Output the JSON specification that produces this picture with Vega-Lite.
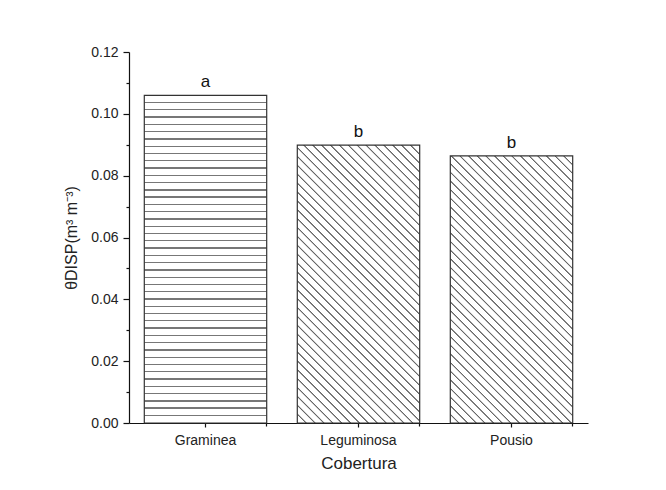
{
  "$schema": "https://vega.github.io/schema/vega-lite/v6.json",
  "autosize": "none",
  "width": 459,
  "height": 371,
  "padding": {"left": 129, "top": 52, "right": 78, "bottom": 67},
  "background": "white",
  "config": {
    "view": {"stroke": null},
    "font": "Liberation Sans",
    "axis": {"labelFont": "Liberation Sans", "titleFont": "Liberation Sans", "labelColor": "#222", "titleColor": "#222", "domainColor": "#111", "tickColor": "#111", "grid": false, "titleFontWeight": "normal"}
  },
  "data": {"values": [
    {"cobertura": "Graminea", "valor": 0.106, "letra": "a"},
    {"cobertura": "Leguminosa", "valor": 0.0899, "letra": "b"},
    {"cobertura": "Pousio", "valor": 0.0864, "letra": "b"}
  ]},
  "resolve": {"axis": {"x": "independent", "y": "independent"}},
  "layer": [
    {
      "transform": [{"filter": "datum.cobertura === 'Graminea'"}],
      "mark": {"type": "bar", "stroke": "#333", "strokeWidth": 1.2, "fill": {"gradient": "linear", "x1": 0, "y1": 0, "x2": 0, "y2": 1, "stops": [
        {"offset": 0, "color": "#fff"},
        {"offset": 0.0202, "color": "#fff"}, {"offset": 0.0202, "color": "#777"}, {"offset": 0.0242, "color": "#777"}, {"offset": 0.0242, "color": "#fff"},
        {"offset": 0.0424, "color": "#fff"}, {"offset": 0.0424, "color": "#777"}, {"offset": 0.0464, "color": "#777"}, {"offset": 0.0464, "color": "#fff"},
        {"offset": 0.0646, "color": "#fff"}, {"offset": 0.0646, "color": "#777"}, {"offset": 0.0686, "color": "#777"}, {"offset": 0.0686, "color": "#fff"},
        {"offset": 0.0868, "color": "#fff"}, {"offset": 0.0868, "color": "#777"}, {"offset": 0.0908, "color": "#777"}, {"offset": 0.0908, "color": "#fff"},
        {"offset": 0.1090, "color": "#fff"}, {"offset": 0.1090, "color": "#777"}, {"offset": 0.1130, "color": "#777"}, {"offset": 0.1130, "color": "#fff"},
        {"offset": 0.1312, "color": "#fff"}, {"offset": 0.1312, "color": "#777"}, {"offset": 0.1352, "color": "#777"}, {"offset": 0.1352, "color": "#fff"},
        {"offset": 0.1534, "color": "#fff"}, {"offset": 0.1534, "color": "#777"}, {"offset": 0.1574, "color": "#777"}, {"offset": 0.1574, "color": "#fff"},
        {"offset": 0.1756, "color": "#fff"}, {"offset": 0.1756, "color": "#777"}, {"offset": 0.1796, "color": "#777"}, {"offset": 0.1796, "color": "#fff"},
        {"offset": 0.1978, "color": "#fff"}, {"offset": 0.1978, "color": "#777"}, {"offset": 0.2018, "color": "#777"}, {"offset": 0.2018, "color": "#fff"},
        {"offset": 0.2200, "color": "#fff"}, {"offset": 0.2200, "color": "#777"}, {"offset": 0.2240, "color": "#777"}, {"offset": 0.2240, "color": "#fff"},
        {"offset": 0.2422, "color": "#fff"}, {"offset": 0.2422, "color": "#777"}, {"offset": 0.2462, "color": "#777"}, {"offset": 0.2462, "color": "#fff"},
        {"offset": 0.2644, "color": "#fff"}, {"offset": 0.2644, "color": "#777"}, {"offset": 0.2684, "color": "#777"}, {"offset": 0.2684, "color": "#fff"},
        {"offset": 0.2866, "color": "#fff"}, {"offset": 0.2866, "color": "#777"}, {"offset": 0.2906, "color": "#777"}, {"offset": 0.2906, "color": "#fff"},
        {"offset": 0.3088, "color": "#fff"}, {"offset": 0.3088, "color": "#777"}, {"offset": 0.3128, "color": "#777"}, {"offset": 0.3128, "color": "#fff"},
        {"offset": 0.3310, "color": "#fff"}, {"offset": 0.3310, "color": "#777"}, {"offset": 0.3350, "color": "#777"}, {"offset": 0.3350, "color": "#fff"},
        {"offset": 0.3532, "color": "#fff"}, {"offset": 0.3532, "color": "#777"}, {"offset": 0.3572, "color": "#777"}, {"offset": 0.3572, "color": "#fff"},
        {"offset": 0.3754, "color": "#fff"}, {"offset": 0.3754, "color": "#777"}, {"offset": 0.3794, "color": "#777"}, {"offset": 0.3794, "color": "#fff"},
        {"offset": 0.3976, "color": "#fff"}, {"offset": 0.3976, "color": "#777"}, {"offset": 0.4016, "color": "#777"}, {"offset": 0.4016, "color": "#fff"},
        {"offset": 0.4198, "color": "#fff"}, {"offset": 0.4198, "color": "#777"}, {"offset": 0.4238, "color": "#777"}, {"offset": 0.4238, "color": "#fff"},
        {"offset": 0.4420, "color": "#fff"}, {"offset": 0.4420, "color": "#777"}, {"offset": 0.4460, "color": "#777"}, {"offset": 0.4460, "color": "#fff"},
        {"offset": 0.4642, "color": "#fff"}, {"offset": 0.4642, "color": "#777"}, {"offset": 0.4682, "color": "#777"}, {"offset": 0.4682, "color": "#fff"},
        {"offset": 0.4864, "color": "#fff"}, {"offset": 0.4864, "color": "#777"}, {"offset": 0.4904, "color": "#777"}, {"offset": 0.4904, "color": "#fff"},
        {"offset": 0.5086, "color": "#fff"}, {"offset": 0.5086, "color": "#777"}, {"offset": 0.5126, "color": "#777"}, {"offset": 0.5126, "color": "#fff"},
        {"offset": 0.5308, "color": "#fff"}, {"offset": 0.5308, "color": "#777"}, {"offset": 0.5348, "color": "#777"}, {"offset": 0.5348, "color": "#fff"},
        {"offset": 0.5530, "color": "#fff"}, {"offset": 0.5530, "color": "#777"}, {"offset": 0.5570, "color": "#777"}, {"offset": 0.5570, "color": "#fff"},
        {"offset": 0.5752, "color": "#fff"}, {"offset": 0.5752, "color": "#777"}, {"offset": 0.5792, "color": "#777"}, {"offset": 0.5792, "color": "#fff"},
        {"offset": 0.5974, "color": "#fff"}, {"offset": 0.5974, "color": "#777"}, {"offset": 0.6014, "color": "#777"}, {"offset": 0.6014, "color": "#fff"},
        {"offset": 0.6196, "color": "#fff"}, {"offset": 0.6196, "color": "#777"}, {"offset": 0.6236, "color": "#777"}, {"offset": 0.6236, "color": "#fff"},
        {"offset": 0.6418, "color": "#fff"}, {"offset": 0.6418, "color": "#777"}, {"offset": 0.6458, "color": "#777"}, {"offset": 0.6458, "color": "#fff"},
        {"offset": 0.6640, "color": "#fff"}, {"offset": 0.6640, "color": "#777"}, {"offset": 0.6680, "color": "#777"}, {"offset": 0.6680, "color": "#fff"},
        {"offset": 0.6862, "color": "#fff"}, {"offset": 0.6862, "color": "#777"}, {"offset": 0.6902, "color": "#777"}, {"offset": 0.6902, "color": "#fff"},
        {"offset": 0.7084, "color": "#fff"}, {"offset": 0.7084, "color": "#777"}, {"offset": 0.7124, "color": "#777"}, {"offset": 0.7124, "color": "#fff"},
        {"offset": 0.7306, "color": "#fff"}, {"offset": 0.7306, "color": "#777"}, {"offset": 0.7346, "color": "#777"}, {"offset": 0.7346, "color": "#fff"},
        {"offset": 0.7528, "color": "#fff"}, {"offset": 0.7528, "color": "#777"}, {"offset": 0.7568, "color": "#777"}, {"offset": 0.7568, "color": "#fff"},
        {"offset": 0.7750, "color": "#fff"}, {"offset": 0.7750, "color": "#777"}, {"offset": 0.7790, "color": "#777"}, {"offset": 0.7790, "color": "#fff"},
        {"offset": 0.7972, "color": "#fff"}, {"offset": 0.7972, "color": "#777"}, {"offset": 0.8012, "color": "#777"}, {"offset": 0.8012, "color": "#fff"},
        {"offset": 0.8194, "color": "#fff"}, {"offset": 0.8194, "color": "#777"}, {"offset": 0.8234, "color": "#777"}, {"offset": 0.8234, "color": "#fff"},
        {"offset": 0.8416, "color": "#fff"}, {"offset": 0.8416, "color": "#777"}, {"offset": 0.8456, "color": "#777"}, {"offset": 0.8456, "color": "#fff"},
        {"offset": 0.8638, "color": "#fff"}, {"offset": 0.8638, "color": "#777"}, {"offset": 0.8678, "color": "#777"}, {"offset": 0.8678, "color": "#fff"},
        {"offset": 0.8860, "color": "#fff"}, {"offset": 0.8860, "color": "#777"}, {"offset": 0.8900, "color": "#777"}, {"offset": 0.8900, "color": "#fff"},
        {"offset": 0.9082, "color": "#fff"}, {"offset": 0.9082, "color": "#777"}, {"offset": 0.9122, "color": "#777"}, {"offset": 0.9122, "color": "#fff"},
        {"offset": 0.9304, "color": "#fff"}, {"offset": 0.9304, "color": "#777"}, {"offset": 0.9344, "color": "#777"}, {"offset": 0.9344, "color": "#fff"},
        {"offset": 0.9526, "color": "#fff"}, {"offset": 0.9526, "color": "#777"}, {"offset": 0.9566, "color": "#777"}, {"offset": 0.9566, "color": "#fff"},
        {"offset": 0.9748, "color": "#fff"}, {"offset": 0.9748, "color": "#777"}, {"offset": 0.9788, "color": "#777"}, {"offset": 0.9788, "color": "#fff"},
        {"offset": 1, "color": "#fff"}
      ]}},
      "encoding": {
        "x": {"field": "cobertura", "type": "nominal", "sort": null,
          "scale": {"domain": ["Graminea", "Leguminosa", "Pousio"], "paddingInner": 0.2, "paddingOuter": 0.1},
          "axis": {"orient": "bottom", "title": "Cobertura", "titleFontSize": 17, "titlePadding": 8, "labelFontSize": 14, "labelAngle": 0, "labelPadding": 6, "tickSize": 4, "domainWidth": 1.2, "tickWidth": 1.2}},
        "y": {"field": "valor", "type": "quantitative",
          "scale": {"domain": [0, 0.12], "nice": false, "zero": true},
          "axis": {"orient": "left", "title": "θDISP(m³ m⁻³)", "titleFontSize": 16, "titlePadding": 11, "labelFontSize": 14, "labelPadding": 5, "tickSize": 6, "format": ".2f", "values": [0, 0.02, 0.04, 0.06, 0.08, 0.1, 0.12], "domainWidth": 1.2, "tickWidth": 1.2}}
      }
    },
    {
      "transform": [{"filter": "datum.cobertura === 'Leguminosa'"}],
      "mark": {"type": "bar", "stroke": "#333", "strokeWidth": 1.2, "fill": {"gradient": "linear", "x1": 0, "y1": 1, "x2": 0.5314, "y2": -0.2064, "stops": [
        {"offset": 0, "color": "#fff"},
        {"offset": 0.0192, "color": "#fff"}, {"offset": 0.0212, "color": "#666"}, {"offset": 0.0232, "color": "#666"}, {"offset": 0.0252, "color": "#fff"},
        {"offset": 0.0414, "color": "#fff"}, {"offset": 0.0434, "color": "#666"}, {"offset": 0.0454, "color": "#666"}, {"offset": 0.0474, "color": "#fff"},
        {"offset": 0.0636, "color": "#fff"}, {"offset": 0.0656, "color": "#666"}, {"offset": 0.0676, "color": "#666"}, {"offset": 0.0696, "color": "#fff"},
        {"offset": 0.0858, "color": "#fff"}, {"offset": 0.0878, "color": "#666"}, {"offset": 0.0898, "color": "#666"}, {"offset": 0.0918, "color": "#fff"},
        {"offset": 0.1080, "color": "#fff"}, {"offset": 0.1100, "color": "#666"}, {"offset": 0.1120, "color": "#666"}, {"offset": 0.1140, "color": "#fff"},
        {"offset": 0.1302, "color": "#fff"}, {"offset": 0.1322, "color": "#666"}, {"offset": 0.1342, "color": "#666"}, {"offset": 0.1362, "color": "#fff"},
        {"offset": 0.1524, "color": "#fff"}, {"offset": 0.1544, "color": "#666"}, {"offset": 0.1564, "color": "#666"}, {"offset": 0.1584, "color": "#fff"},
        {"offset": 0.1746, "color": "#fff"}, {"offset": 0.1766, "color": "#666"}, {"offset": 0.1786, "color": "#666"}, {"offset": 0.1806, "color": "#fff"},
        {"offset": 0.1968, "color": "#fff"}, {"offset": 0.1988, "color": "#666"}, {"offset": 0.2008, "color": "#666"}, {"offset": 0.2028, "color": "#fff"},
        {"offset": 0.2190, "color": "#fff"}, {"offset": 0.2210, "color": "#666"}, {"offset": 0.2230, "color": "#666"}, {"offset": 0.2250, "color": "#fff"},
        {"offset": 0.2412, "color": "#fff"}, {"offset": 0.2432, "color": "#666"}, {"offset": 0.2452, "color": "#666"}, {"offset": 0.2472, "color": "#fff"},
        {"offset": 0.2634, "color": "#fff"}, {"offset": 0.2654, "color": "#666"}, {"offset": 0.2674, "color": "#666"}, {"offset": 0.2694, "color": "#fff"},
        {"offset": 0.2856, "color": "#fff"}, {"offset": 0.2876, "color": "#666"}, {"offset": 0.2896, "color": "#666"}, {"offset": 0.2916, "color": "#fff"},
        {"offset": 0.3078, "color": "#fff"}, {"offset": 0.3098, "color": "#666"}, {"offset": 0.3118, "color": "#666"}, {"offset": 0.3138, "color": "#fff"},
        {"offset": 0.3300, "color": "#fff"}, {"offset": 0.3320, "color": "#666"}, {"offset": 0.3340, "color": "#666"}, {"offset": 0.3360, "color": "#fff"},
        {"offset": 0.3522, "color": "#fff"}, {"offset": 0.3542, "color": "#666"}, {"offset": 0.3562, "color": "#666"}, {"offset": 0.3582, "color": "#fff"},
        {"offset": 0.3744, "color": "#fff"}, {"offset": 0.3764, "color": "#666"}, {"offset": 0.3784, "color": "#666"}, {"offset": 0.3804, "color": "#fff"},
        {"offset": 0.3966, "color": "#fff"}, {"offset": 0.3986, "color": "#666"}, {"offset": 0.4006, "color": "#666"}, {"offset": 0.4026, "color": "#fff"},
        {"offset": 0.4188, "color": "#fff"}, {"offset": 0.4208, "color": "#666"}, {"offset": 0.4228, "color": "#666"}, {"offset": 0.4248, "color": "#fff"},
        {"offset": 0.4410, "color": "#fff"}, {"offset": 0.4430, "color": "#666"}, {"offset": 0.4450, "color": "#666"}, {"offset": 0.4470, "color": "#fff"},
        {"offset": 0.4632, "color": "#fff"}, {"offset": 0.4652, "color": "#666"}, {"offset": 0.4672, "color": "#666"}, {"offset": 0.4692, "color": "#fff"},
        {"offset": 0.4854, "color": "#fff"}, {"offset": 0.4874, "color": "#666"}, {"offset": 0.4894, "color": "#666"}, {"offset": 0.4914, "color": "#fff"},
        {"offset": 0.5076, "color": "#fff"}, {"offset": 0.5096, "color": "#666"}, {"offset": 0.5116, "color": "#666"}, {"offset": 0.5136, "color": "#fff"},
        {"offset": 0.5298, "color": "#fff"}, {"offset": 0.5318, "color": "#666"}, {"offset": 0.5338, "color": "#666"}, {"offset": 0.5358, "color": "#fff"},
        {"offset": 0.5520, "color": "#fff"}, {"offset": 0.5540, "color": "#666"}, {"offset": 0.5560, "color": "#666"}, {"offset": 0.5580, "color": "#fff"},
        {"offset": 0.5742, "color": "#fff"}, {"offset": 0.5762, "color": "#666"}, {"offset": 0.5782, "color": "#666"}, {"offset": 0.5802, "color": "#fff"},
        {"offset": 0.5964, "color": "#fff"}, {"offset": 0.5984, "color": "#666"}, {"offset": 0.6004, "color": "#666"}, {"offset": 0.6024, "color": "#fff"},
        {"offset": 0.6186, "color": "#fff"}, {"offset": 0.6206, "color": "#666"}, {"offset": 0.6226, "color": "#666"}, {"offset": 0.6246, "color": "#fff"},
        {"offset": 0.6408, "color": "#fff"}, {"offset": 0.6428, "color": "#666"}, {"offset": 0.6448, "color": "#666"}, {"offset": 0.6468, "color": "#fff"},
        {"offset": 0.6630, "color": "#fff"}, {"offset": 0.6650, "color": "#666"}, {"offset": 0.6670, "color": "#666"}, {"offset": 0.6690, "color": "#fff"},
        {"offset": 0.6852, "color": "#fff"}, {"offset": 0.6872, "color": "#666"}, {"offset": 0.6892, "color": "#666"}, {"offset": 0.6912, "color": "#fff"},
        {"offset": 0.7074, "color": "#fff"}, {"offset": 0.7094, "color": "#666"}, {"offset": 0.7114, "color": "#666"}, {"offset": 0.7134, "color": "#fff"},
        {"offset": 0.7296, "color": "#fff"}, {"offset": 0.7316, "color": "#666"}, {"offset": 0.7336, "color": "#666"}, {"offset": 0.7356, "color": "#fff"},
        {"offset": 0.7518, "color": "#fff"}, {"offset": 0.7538, "color": "#666"}, {"offset": 0.7558, "color": "#666"}, {"offset": 0.7578, "color": "#fff"},
        {"offset": 0.7740, "color": "#fff"}, {"offset": 0.7760, "color": "#666"}, {"offset": 0.7780, "color": "#666"}, {"offset": 0.7800, "color": "#fff"},
        {"offset": 0.7962, "color": "#fff"}, {"offset": 0.7982, "color": "#666"}, {"offset": 0.8002, "color": "#666"}, {"offset": 0.8022, "color": "#fff"},
        {"offset": 0.8184, "color": "#fff"}, {"offset": 0.8204, "color": "#666"}, {"offset": 0.8224, "color": "#666"}, {"offset": 0.8244, "color": "#fff"},
        {"offset": 0.8406, "color": "#fff"}, {"offset": 0.8426, "color": "#666"}, {"offset": 0.8446, "color": "#666"}, {"offset": 0.8466, "color": "#fff"},
        {"offset": 0.8628, "color": "#fff"}, {"offset": 0.8648, "color": "#666"}, {"offset": 0.8668, "color": "#666"}, {"offset": 0.8688, "color": "#fff"},
        {"offset": 0.8850, "color": "#fff"}, {"offset": 0.8870, "color": "#666"}, {"offset": 0.8890, "color": "#666"}, {"offset": 0.8910, "color": "#fff"},
        {"offset": 0.9072, "color": "#fff"}, {"offset": 0.9092, "color": "#666"}, {"offset": 0.9112, "color": "#666"}, {"offset": 0.9132, "color": "#fff"},
        {"offset": 0.9294, "color": "#fff"}, {"offset": 0.9314, "color": "#666"}, {"offset": 0.9334, "color": "#666"}, {"offset": 0.9354, "color": "#fff"},
        {"offset": 0.9516, "color": "#fff"}, {"offset": 0.9536, "color": "#666"}, {"offset": 0.9556, "color": "#666"}, {"offset": 0.9576, "color": "#fff"},
        {"offset": 0.9738, "color": "#fff"}, {"offset": 0.9758, "color": "#666"}, {"offset": 0.9778, "color": "#666"}, {"offset": 0.9798, "color": "#fff"},
        {"offset": 1, "color": "#fff"}
      ]}},
      "encoding": {
        "x": {"field": "cobertura", "type": "nominal", "sort": null, "scale": {"domain": ["Graminea", "Leguminosa", "Pousio"], "paddingInner": 0.2, "paddingOuter": 0.1}, "axis": null},
        "y": {"field": "valor", "type": "quantitative", "scale": {"domain": [0, 0.12], "nice": false}, "axis": null}
      }
    },
    {
      "transform": [{"filter": "datum.cobertura === 'Pousio'"}],
      "mark": {"type": "bar", "stroke": "#333", "strokeWidth": 1.2, "fill": {"gradient": "linear", "x1": 0, "y1": 1, "x2": 0.5523, "y2": -0.2052, "stops": [
        {"offset": 0, "color": "#fff"},
        {"offset": 0.0192, "color": "#fff"}, {"offset": 0.0212, "color": "#666"}, {"offset": 0.0232, "color": "#666"}, {"offset": 0.0252, "color": "#fff"},
        {"offset": 0.0414, "color": "#fff"}, {"offset": 0.0434, "color": "#666"}, {"offset": 0.0454, "color": "#666"}, {"offset": 0.0474, "color": "#fff"},
        {"offset": 0.0636, "color": "#fff"}, {"offset": 0.0656, "color": "#666"}, {"offset": 0.0676, "color": "#666"}, {"offset": 0.0696, "color": "#fff"},
        {"offset": 0.0858, "color": "#fff"}, {"offset": 0.0878, "color": "#666"}, {"offset": 0.0898, "color": "#666"}, {"offset": 0.0918, "color": "#fff"},
        {"offset": 0.1080, "color": "#fff"}, {"offset": 0.1100, "color": "#666"}, {"offset": 0.1120, "color": "#666"}, {"offset": 0.1140, "color": "#fff"},
        {"offset": 0.1302, "color": "#fff"}, {"offset": 0.1322, "color": "#666"}, {"offset": 0.1342, "color": "#666"}, {"offset": 0.1362, "color": "#fff"},
        {"offset": 0.1524, "color": "#fff"}, {"offset": 0.1544, "color": "#666"}, {"offset": 0.1564, "color": "#666"}, {"offset": 0.1584, "color": "#fff"},
        {"offset": 0.1746, "color": "#fff"}, {"offset": 0.1766, "color": "#666"}, {"offset": 0.1786, "color": "#666"}, {"offset": 0.1806, "color": "#fff"},
        {"offset": 0.1968, "color": "#fff"}, {"offset": 0.1988, "color": "#666"}, {"offset": 0.2008, "color": "#666"}, {"offset": 0.2028, "color": "#fff"},
        {"offset": 0.2190, "color": "#fff"}, {"offset": 0.2210, "color": "#666"}, {"offset": 0.2230, "color": "#666"}, {"offset": 0.2250, "color": "#fff"},
        {"offset": 0.2412, "color": "#fff"}, {"offset": 0.2432, "color": "#666"}, {"offset": 0.2452, "color": "#666"}, {"offset": 0.2472, "color": "#fff"},
        {"offset": 0.2634, "color": "#fff"}, {"offset": 0.2654, "color": "#666"}, {"offset": 0.2674, "color": "#666"}, {"offset": 0.2694, "color": "#fff"},
        {"offset": 0.2856, "color": "#fff"}, {"offset": 0.2876, "color": "#666"}, {"offset": 0.2896, "color": "#666"}, {"offset": 0.2916, "color": "#fff"},
        {"offset": 0.3078, "color": "#fff"}, {"offset": 0.3098, "color": "#666"}, {"offset": 0.3118, "color": "#666"}, {"offset": 0.3138, "color": "#fff"},
        {"offset": 0.3300, "color": "#fff"}, {"offset": 0.3320, "color": "#666"}, {"offset": 0.3340, "color": "#666"}, {"offset": 0.3360, "color": "#fff"},
        {"offset": 0.3522, "color": "#fff"}, {"offset": 0.3542, "color": "#666"}, {"offset": 0.3562, "color": "#666"}, {"offset": 0.3582, "color": "#fff"},
        {"offset": 0.3744, "color": "#fff"}, {"offset": 0.3764, "color": "#666"}, {"offset": 0.3784, "color": "#666"}, {"offset": 0.3804, "color": "#fff"},
        {"offset": 0.3966, "color": "#fff"}, {"offset": 0.3986, "color": "#666"}, {"offset": 0.4006, "color": "#666"}, {"offset": 0.4026, "color": "#fff"},
        {"offset": 0.4188, "color": "#fff"}, {"offset": 0.4208, "color": "#666"}, {"offset": 0.4228, "color": "#666"}, {"offset": 0.4248, "color": "#fff"},
        {"offset": 0.4410, "color": "#fff"}, {"offset": 0.4430, "color": "#666"}, {"offset": 0.4450, "color": "#666"}, {"offset": 0.4470, "color": "#fff"},
        {"offset": 0.4632, "color": "#fff"}, {"offset": 0.4652, "color": "#666"}, {"offset": 0.4672, "color": "#666"}, {"offset": 0.4692, "color": "#fff"},
        {"offset": 0.4854, "color": "#fff"}, {"offset": 0.4874, "color": "#666"}, {"offset": 0.4894, "color": "#666"}, {"offset": 0.4914, "color": "#fff"},
        {"offset": 0.5076, "color": "#fff"}, {"offset": 0.5096, "color": "#666"}, {"offset": 0.5116, "color": "#666"}, {"offset": 0.5136, "color": "#fff"},
        {"offset": 0.5298, "color": "#fff"}, {"offset": 0.5318, "color": "#666"}, {"offset": 0.5338, "color": "#666"}, {"offset": 0.5358, "color": "#fff"},
        {"offset": 0.5520, "color": "#fff"}, {"offset": 0.5540, "color": "#666"}, {"offset": 0.5560, "color": "#666"}, {"offset": 0.5580, "color": "#fff"},
        {"offset": 0.5742, "color": "#fff"}, {"offset": 0.5762, "color": "#666"}, {"offset": 0.5782, "color": "#666"}, {"offset": 0.5802, "color": "#fff"},
        {"offset": 0.5964, "color": "#fff"}, {"offset": 0.5984, "color": "#666"}, {"offset": 0.6004, "color": "#666"}, {"offset": 0.6024, "color": "#fff"},
        {"offset": 0.6186, "color": "#fff"}, {"offset": 0.6206, "color": "#666"}, {"offset": 0.6226, "color": "#666"}, {"offset": 0.6246, "color": "#fff"},
        {"offset": 0.6408, "color": "#fff"}, {"offset": 0.6428, "color": "#666"}, {"offset": 0.6448, "color": "#666"}, {"offset": 0.6468, "color": "#fff"},
        {"offset": 0.6630, "color": "#fff"}, {"offset": 0.6650, "color": "#666"}, {"offset": 0.6670, "color": "#666"}, {"offset": 0.6690, "color": "#fff"},
        {"offset": 0.6852, "color": "#fff"}, {"offset": 0.6872, "color": "#666"}, {"offset": 0.6892, "color": "#666"}, {"offset": 0.6912, "color": "#fff"},
        {"offset": 0.7074, "color": "#fff"}, {"offset": 0.7094, "color": "#666"}, {"offset": 0.7114, "color": "#666"}, {"offset": 0.7134, "color": "#fff"},
        {"offset": 0.7296, "color": "#fff"}, {"offset": 0.7316, "color": "#666"}, {"offset": 0.7336, "color": "#666"}, {"offset": 0.7356, "color": "#fff"},
        {"offset": 0.7518, "color": "#fff"}, {"offset": 0.7538, "color": "#666"}, {"offset": 0.7558, "color": "#666"}, {"offset": 0.7578, "color": "#fff"},
        {"offset": 0.7740, "color": "#fff"}, {"offset": 0.7760, "color": "#666"}, {"offset": 0.7780, "color": "#666"}, {"offset": 0.7800, "color": "#fff"},
        {"offset": 0.7962, "color": "#fff"}, {"offset": 0.7982, "color": "#666"}, {"offset": 0.8002, "color": "#666"}, {"offset": 0.8022, "color": "#fff"},
        {"offset": 0.8184, "color": "#fff"}, {"offset": 0.8204, "color": "#666"}, {"offset": 0.8224, "color": "#666"}, {"offset": 0.8244, "color": "#fff"},
        {"offset": 0.8406, "color": "#fff"}, {"offset": 0.8426, "color": "#666"}, {"offset": 0.8446, "color": "#666"}, {"offset": 0.8466, "color": "#fff"},
        {"offset": 0.8628, "color": "#fff"}, {"offset": 0.8648, "color": "#666"}, {"offset": 0.8668, "color": "#666"}, {"offset": 0.8688, "color": "#fff"},
        {"offset": 0.8850, "color": "#fff"}, {"offset": 0.8870, "color": "#666"}, {"offset": 0.8890, "color": "#666"}, {"offset": 0.8910, "color": "#fff"},
        {"offset": 0.9072, "color": "#fff"}, {"offset": 0.9092, "color": "#666"}, {"offset": 0.9112, "color": "#666"}, {"offset": 0.9132, "color": "#fff"},
        {"offset": 0.9294, "color": "#fff"}, {"offset": 0.9314, "color": "#666"}, {"offset": 0.9334, "color": "#666"}, {"offset": 0.9354, "color": "#fff"},
        {"offset": 0.9516, "color": "#fff"}, {"offset": 0.9536, "color": "#666"}, {"offset": 0.9556, "color": "#666"}, {"offset": 0.9576, "color": "#fff"},
        {"offset": 0.9738, "color": "#fff"}, {"offset": 0.9758, "color": "#666"}, {"offset": 0.9778, "color": "#666"}, {"offset": 0.9798, "color": "#fff"},
        {"offset": 1, "color": "#fff"}
      ]}},
      "encoding": {
        "x": {"field": "cobertura", "type": "nominal", "sort": null, "scale": {"domain": ["Graminea", "Leguminosa", "Pousio"], "paddingInner": 0.2, "paddingOuter": 0.1}, "axis": null},
        "y": {"field": "valor", "type": "quantitative", "scale": {"domain": [0, 0.12], "nice": false}, "axis": null}
      }
    },
    {
      "mark": {"type": "text", "baseline": "alphabetic", "align": "center", "dy": -8, "fontSize": 17, "font": "Liberation Sans", "color": "#111"},
      "encoding": {
        "x": {"field": "cobertura", "type": "nominal", "sort": null, "scale": {"domain": ["Graminea", "Leguminosa", "Pousio"], "paddingInner": 0.2, "paddingOuter": 0.1}, "axis": null},
        "y": {"field": "valor", "type": "quantitative", "scale": {"domain": [0, 0.12], "nice": false}, "axis": null},
        "text": {"field": "letra"}
      }
    },
    {
      "mark": {"type": "point", "opacity": 0},
      "encoding": {
        "x": {"field": "cobertura", "type": "nominal", "sort": null, "scale": {"domain": ["Graminea", "Leguminosa", "Pousio"], "paddingInner": 0.2, "paddingOuter": 0.1},
          "axis": {"orient": "bottom", "bandPosition": 1, "values": ["Graminea", "Leguminosa", "Pousio"], "labels": false, "domain": false, "tickSize": 3, "tickWidth": 1.2, "title": null}},
        "y": {"field": "valor", "type": "quantitative", "scale": {"domain": [0, 0.12], "nice": false},
          "axis": {"orient": "left", "values": [0.01, 0.03, 0.05, 0.07, 0.09, 0.11], "labels": false, "domain": false, "tickSize": 3, "tickWidth": 1.2, "title": null}}
      }
    }
  ]
}
